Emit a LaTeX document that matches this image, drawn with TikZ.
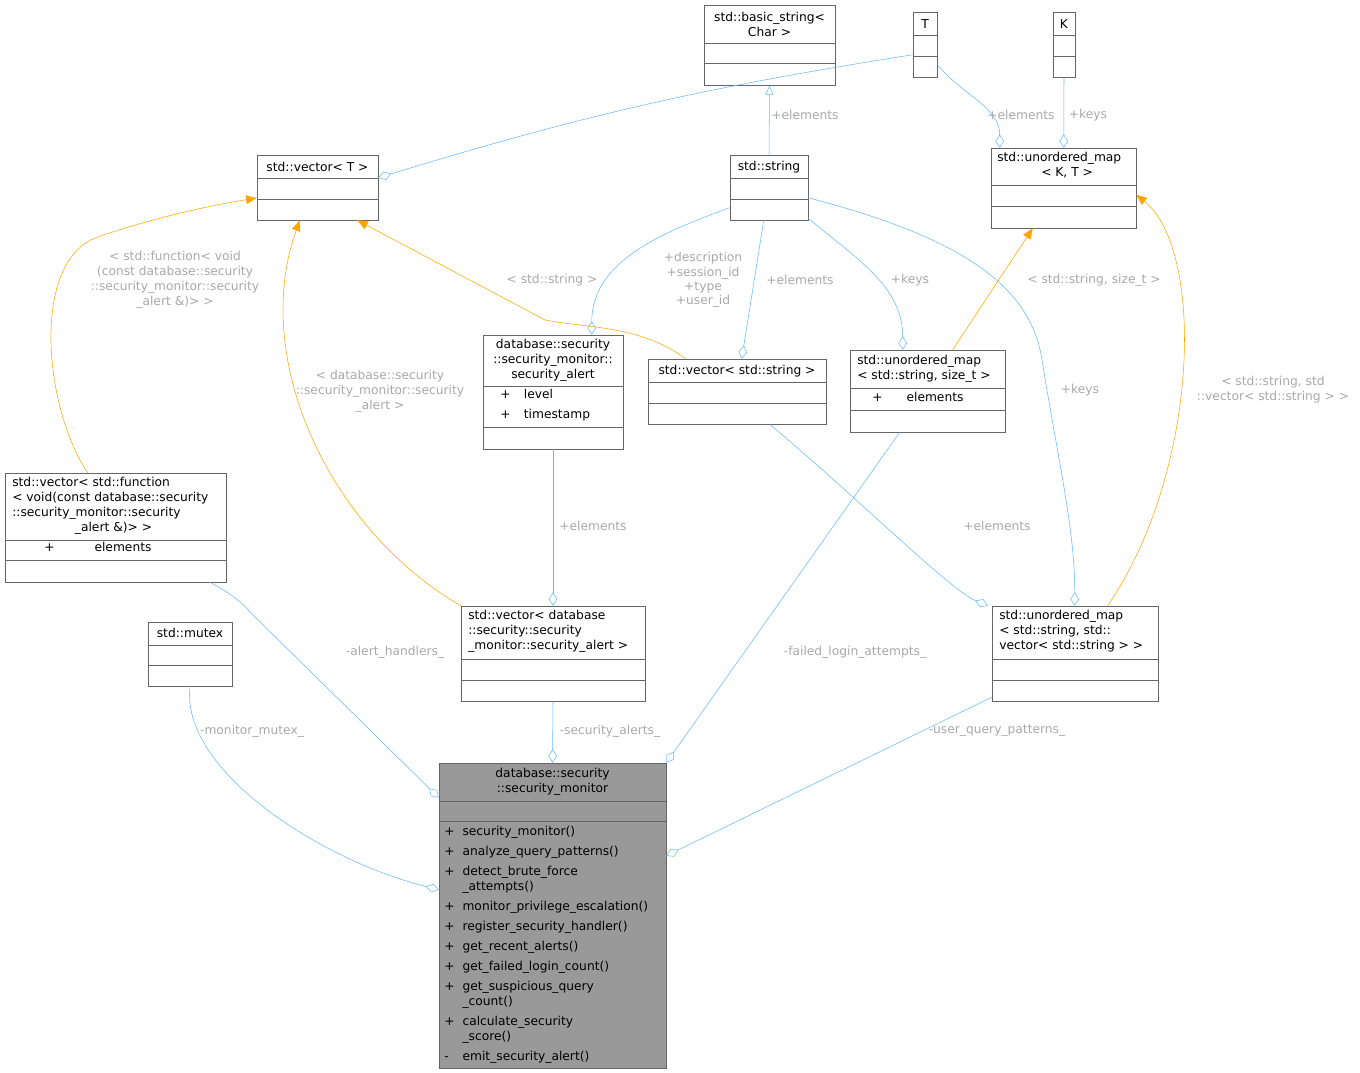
\documentclass[tikz,border=0pt]{standalone}
\usepackage{fontspec}
\setsansfont{DejaVu Sans}
\usetikzlibrary{arrows.meta,fit,calc}
\definecolor{edgeblue}{HTML}{63B8FF}
\definecolor{tmplorange}{HTML}{FFA500}
\definecolor{lblgray}{HTML}{A8A8A8}
\definecolor{boxgray}{HTML}{999999}
\definecolor{boxline}{HTML}{666666}

% class box: fill, name, x1, y1, x2, y2, first line, second line
\newcommand{\classbox}[8][white]{%
  \node[cls, fill=#1, fit={(#3,#4) (#5,#6)}] (#2) {};
  \draw[boxline] (#3,#7) -- (#5,#7);
  \draw[boxline] (#3,#8) -- (#5,#8);}

\tikzset{
  cls/.style={draw=boxline, inner sep=0pt},
  txt/.style={inner sep=0pt, align=center, font=\sffamily\fontsize{9.2}{11.25}\selectfont},
  ltxt/.style={txt, align=left, anchor=north west},
  lbl/.style={inner sep=0pt, align=center, text=lblgray, font=\sffamily\fontsize{9.2}{11.25}\selectfont},
  agg/.style={draw=edgeblue, -{Diamond[open,length=10pt,width=6.5pt]}},
  inh/.style={draw=edgeblue, -{Triangle[open,length=7pt,width=6pt]}},
  tmpl/.style={draw=tmplorange, -{Triangle[length=8pt,width=6.5pt]}}
}

\begin{document}
\begin{tikzpicture}[x=0.75pt,y=-0.75pt]
  \useasboundingbox (0,0) rectangle (1360,1073);

  % classes
  \classbox{bstr}{704}{5}{835}{85}{43}{63}
  \node[txt] (bstr-t) at (769.5,24) {std::basic\_string<\\Char >};
  \classbox{T}{913}{12}{937}{77}{35}{56}
  \node[txt] (T-t) at (925,24) {T};
  \classbox{K}{1053}{12}{1075}{77}{35}{56}
  \node[txt] (K-t) at (1064,24) {K};
  \classbox{vecT}{257}{155}{378}{220}{178}{199}
  \node[txt] (vecT-t) at (317.5,167) {std::vector< T >};
  \classbox{str}{730}{155}{808}{220}{178}{199}
  \node[txt] (str-t) at (769,167) {std::string};
  \classbox{umapKT}{991}{148}{1136}{228}{185}{206}
  \node[ltxt] (umapKT-t) at (997,152) {std::unordered\_map\\\hspace*{33pt}< K, T >};
  \classbox{alert}{483}{335}{623}{449}{386}{427}
  \node[txt] (alert-t) at (553,360) {database::security\\::security\_monitor::\\security\_alert};
  \node[ltxt] (alert-a) at (500,389) {+\hspace{10pt}level\\[3.75pt]+\hspace{10pt}timestamp};
  \classbox{vecStr}{648}{359}{826}{424}{382}{403}
  \node[txt] (vecStr-t) at (737,371) {std::vector< std::string >};
  \classbox{umapSS}{850}{350}{1005}{432}{388}{410}
  \node[ltxt] (umapSS-t) at (857,355) {std::unordered\_map\\< std::string, size\_t >};
  \node[ltxt] (umapSS-a) at (872,392) {+\hspace{18pt}elements};
  \classbox{vecFn}{5}{473}{226}{582}{540}{560}
  \node[ltxt] (vecFn-t) at (12,477) {std::vector< std::function\\< void(const database::security\\::security\_monitor::security\\\hspace*{47pt}\_alert \&)> >};
  \node[ltxt] (vecFn-a) at (44,542) {+\hspace{30pt}elements};
  \classbox{mutex}{148}{622}{232}{686}{645}{665}
  \node[txt] (mutex-t) at (190,633) {std::mutex};
  \classbox{vecSA}{461}{606}{645}{701}{659}{680}
  \node[ltxt] (vecSA-t) at (468,610) {std::vector< database\\::security::security\\\_monitor::security\_alert >};
  \classbox{umapSV}{992}{606}{1158}{701}{659}{680}
  \node[ltxt] (umapSV-t) at (999,610) {std::unordered\_map\\< std::string, std::\\vector< std::string > >};
  \classbox[boxgray]{mon}{439}{763}{666}{1068}{801}{821}
  \node[txt] (mon-t) at (552.5,782) {database::security\\::security\_monitor};
  \node[txt, anchor=north west, align=left] (mon-m) at (444,825) {%
    \begin{tabular}{@{}l@{\hspace{6pt}}l@{}}
    + & security\_monitor()\\[3.75pt]
    + & analyze\_query\_patterns()\\[3.75pt]
    + & detect\_brute\_force\\
      & \_attempts()\\[3.75pt]
    + & monitor\_privilege\_escalation()\\[3.75pt]
    + & register\_security\_handler()\\[3.75pt]
    + & get\_recent\_alerts()\\[3.75pt]
    + & get\_failed\_login\_count()\\[3.75pt]
    + & get\_suspicious\_query\\
      & \_count()\\[3.75pt]
    + & calculate\_security\\
      & \_score()\\[3.75pt]
    - & emit\_security\_alert()
    \end{tabular}};

  % connectors
  \draw[inh] (str.north) -- (bstr.south);
  \draw[agg] ($(T.north west)+(0,43)$) to[bend right=4] ($(vecT.north east)+(0,23)$);
  \node[lbl] (l-Tel) at (805,115) {+elements};
  \draw[agg] ($(T.north east)+(0,53)$) to[out=-50,in=90] ($(umapKT.north west)+(9,0)$);
  \node[lbl] (l-Tel2) at (1021,115) {+elements};
  \draw[agg] (K.south) -- ($(umapKT.north west)+(73,0)$);
  \node[lbl] (l-Kkeys) at (1088,115) {+keys};

  \draw[tmpl] ($(vecFn.north west)+(83,0)$) .. controls (45,410) and (30,265) .. (95,238) .. controls (140,222) and (200,207) .. (vecT.west |- 0,198);
  \node[lbl] (l-fn) at (175,280) {< std::function< void\\(const database::security\\::security\_monitor::security\\\_alert \&)> >};
  \draw[tmpl] (vecSA.north west) .. controls (330,530) and (250,360) .. ($(vecT.south west)+(43,0)$);
  \node[lbl] (l-sa) at (380,391) {< database::security\\::security\_monitor::security\\\_alert >};
  \draw[tmpl] ($(vecStr.north west)+(38,0)$) .. controls (640,325) and (585,328) .. (545,320) -- ($(vecT.south east)+(-21,0)$);
  \node[lbl] (l-str) at (552,280) {< std::string >};

  \draw[agg] ($(str.north west)+(0,53)$) to[out=200,in=90] ($(alert.north west)+(109,0)$);
  \node[lbl] (l-desc) at (703,280) {+description\\[-0.5pt]+session\_id\\[-0.5pt]+type\\[-0.5pt]+user\_id};
  \draw[agg] ($(str.south west)+(34,0)$) -- ($(vecStr.north west)+(94,0)$);
  \node[lbl] (l-vsel) at (800,280) {+elements};
  \draw[agg] ($(str.south east)+(0,-2)$) to[out=-40,in=90] ($(umapSS.north west)+(53,0)$);
  \node[lbl] (l-sskeys) at (910,280) {+keys};
  \draw[agg] ($(str.north east)+(0,43)$) .. controls (950,235) and (1030,280) .. (1042,360) .. controls (1058,460) and (1075,530) .. ($(umapSV.north west)+(83,0)$);
  \node[lbl] (l-svkeys) at (1080,390) {+keys};
  \draw[tmpl] ($(umapSS.north west)+(103,0)$) -- ($(umapKT.south west)+(42,0)$);
  \node[lbl] (l-ss) at (1094,280) {< std::string, size\_t >};
  \draw[tmpl] ($(umapSV.north west)+(116,0)$) .. controls (1200,470) and (1205,250) .. ($(umapKT.north east)+(0,47)$);
  \node[lbl] (l-sv) at (1273,390) {< std::string, std\\::vector< std::string > >};

  \draw[agg] (alert.south) -- (vecSA.north);
  \node[lbl] (l-saed) at (593,526) {+elements};
  \draw[agg] ($(vecStr.south west)+(122,0)$) .. controls (860,500) and (950,590) .. ($(umapSV.north west)+(-4,0)$);
  \node[lbl] (l-sved) at (997,526) {+elements};

  \draw[agg] ($(umapSS.south west)+(50,0)$) -- (mon.north east);
  \node[lbl] (l-fail) at (855,652) {-failed\_login\_attempts\_};
  \draw[agg] ($(vecFn.south west)+(205,0)$) .. controls (225,590) and (240,600) .. (250,612) -- ($(mon.north west)+(0,35)$);
  \node[lbl] (l-hand) at (395,652) {-alert\_handlers\_};
  \draw[agg] (mutex.south) .. controls (180,770) and (320,860) .. ($(mon.north west)+(0,127)$);
  \node[lbl] (l-mutex) at (252,731) {-monitor\_mutex\_};
  \draw[agg] (vecSA.south) -- (mon.north);
  \node[lbl] (l-sec) at (610,731) {-security\_alerts\_};
  \draw[agg] ($(umapSV.south west)+(0,-4)$) -- ($(mon.north east)+(0,93)$);
  \node[lbl] (l-uqp) at (997,731) {-user\_query\_patterns\_};
\end{tikzpicture}
\end{document}
